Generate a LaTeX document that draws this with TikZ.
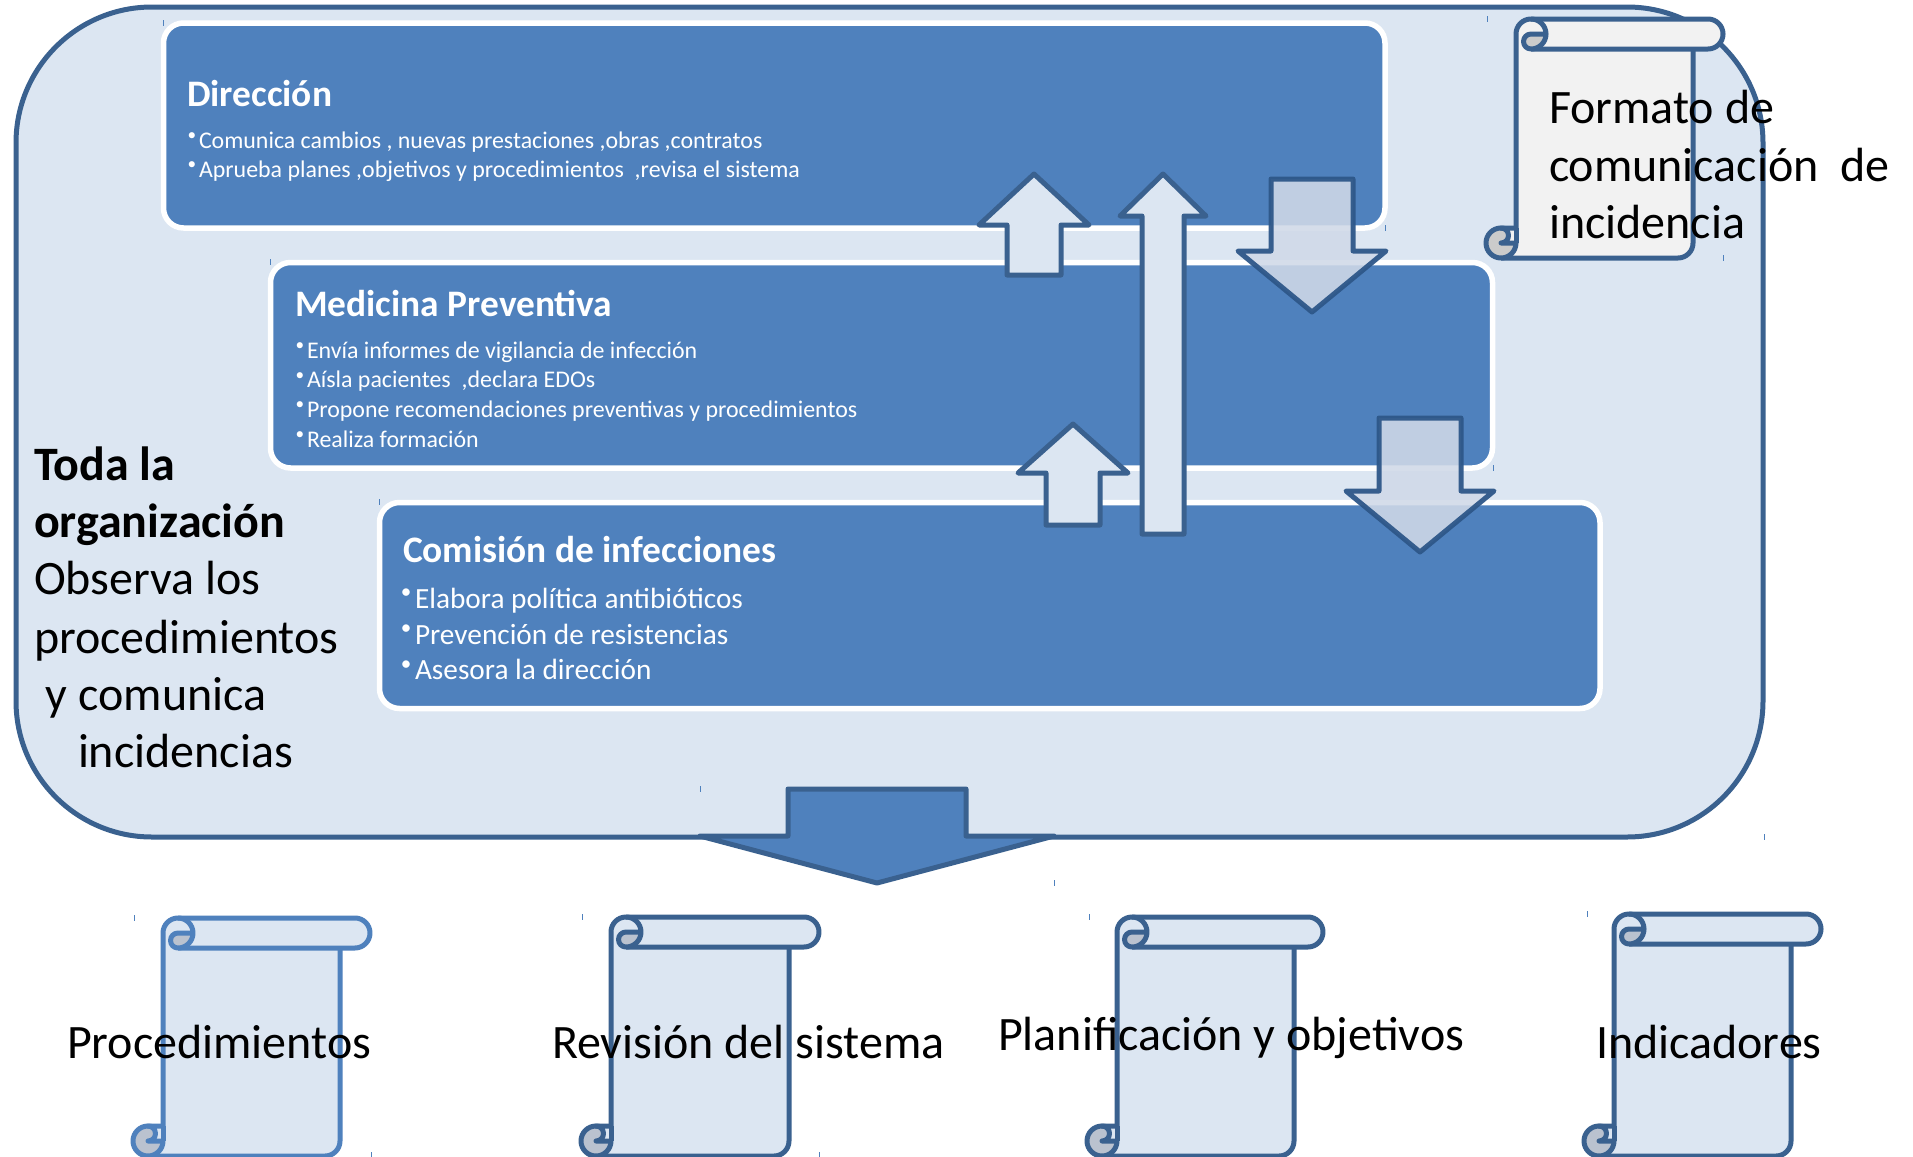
\documentclass[tikz,border=0pt]{standalone}
\usepackage{fontspec}
\setmainfont{Carlito}
\definecolor{boxblue}{HTML}{4F81BD}
\definecolor{pale}{HTML}{DCE6F2}
\definecolor{edge}{HTML}{3A618F}
\definecolor{edgelight}{HTML}{4F81BD}
\definecolor{edgedown}{HTML}{2E5789}
\definecolor{downfill}{HTML}{D0D9E8}
\definecolor{curl}{HTML}{CBCBCB}
\definecolor{curlb}{HTML}{BAC2CF}
\definecolor{paper}{HTML}{F2F2F2}
\newcommand{\fsz}[1]{\fontsize{#1}{#1}\selectfont}
\newcommand{\blt}[1]{\llap{\raisebox{.31em}{\scalebox{.72}{•}}\hspace{.12em}}#1}
\tikzset{
  x=.5pt,y=-.5pt,
  lw/.style={line width=2.5pt,line join=round},
  bandbox/.style={fill=boxblue,draw=white,line width=2.75pt,rounded corners=10pt},
  uparrow/.style={lw,draw=edge,fill=pale},
  downarrow/.style={lw,draw=edgedown,fill=downfill,fill opacity=.88,draw opacity=.95},
  bigarrow/.style={lw,draw=edge,fill=boxblue},
  txt/.style={anchor=base west,inner sep=0pt,outer sep=0pt},
  head/.style={txt,text=white,font=\fsz{18.7}\bfseries},
  smalltxt/.style={txt,text=white,font=\fsz{11.95}},
  midtxt/.style={txt,text=white,font=\fsz{14.65}},
  bigtxt/.style={txt,text=black,font=\fsz{24}},
  boldtxt/.style={txt,text=black,font=\fsz{24}\bfseries},
  tickmark/.style={draw=boxblue,line width=.4pt},
}
% L T R RR B line fill curlfill
\newcommand{\scrollshape}[8]{%
  \def\sL{#1}\def\sT{#2}\def\sR{#3}\def\sRR{#4}\def\sB{#5}%
  \begin{scope}[lw,draw=#6]
  \path[fill=#7] (\sL,\sB-15) -- (\sL,\sT+15) arc[start angle=180,end angle=90,radius=7.5pt]
     -- (\sRR-15,\sT) arc[start angle=90,end angle=-90,radius=7.5pt]
     -- (\sR,\sT+30) -- (\sR,\sB-15) arc[start angle=0,end angle=-90,radius=7.5pt] -- (\sL-15,\sB) -- cycle;
  \draw (\sL,\sB-30) -- (\sL,\sT+15) arc[start angle=180,end angle=90,radius=7.5pt]
     -- (\sRR-15,\sT) arc[start angle=90,end angle=-90,radius=7.5pt] -- (\sL+15,\sT+30);
  \draw (\sR,\sT+30) -- (\sR,\sB-15) arc[start angle=0,end angle=-90,radius=7.5pt] -- (\sL-15,\sB);
  % top curl
  \path[fill=#8] (\sL+15,\sT+15) -- (\sL+30,\sT+15) arc[start angle=0,end angle=-90,radius=7.5pt]
     arc[start angle=-90,end angle=-270,radius=3.75pt] -- cycle;
  \draw (\sL+15,\sT) arc[start angle=90,end angle=-90,radius=7.5pt]
     arc[start angle=270,end angle=90,radius=3.75pt] -- (\sL+30,\sT+15);
  % bottom curl
  \draw[fill=#8] (\sL-15,\sB-15) circle[radius=7.5pt];
  \path[fill=#7] (\sL-15,\sB-30) -- (\sL,\sB-30) -- (\sL,\sB-15) -- (\sL-15,\sB-15)
     arc[start angle=-90,end angle=90,radius=3.75pt] -- cycle;
  \draw (\sL,\sB-30) -- (\sL-15,\sB-30) arc[start angle=90,end angle=-90,radius=3.75pt] -- (\sL,\sB-15);
  \draw (\sL,\sB-30) -- (\sL,\sB-15);
  \end{scope}}
% cx apexY wingY halfwing halfshaft bottom
\newcommand{\uparr}[6]{\path[uparrow] (#1,#2) -- (#1+#4,#3) -- (#1+#5,#3) -- (#1+#5,#6) -- (#1-#5,#6) -- (#1-#5,#3) -- (#1-#4,#3) -- cycle;}
% style cx top wing halfshaft halfwing tip
\newcommand{\downarr}[7]{\path[#1] (#2-#5,#3) -- (#2+#5,#3) -- (#2+#5,#4) -- (#2+#6,#4) -- (#2,#7) -- (#2-#6,#4) -- (#2-#5,#4) -- cycle;}
\begin{document}
\begin{tikzpicture}
\useasboundingbox[fill=white] (0,0) rectangle (1913,1157);
% outer
\draw[lw,draw=edge,fill=pale,rounded corners=68pt] (16,7) rectangle (1763,837);
% bands
\draw[bandbox] (163.5,23) rectangle (1385,228);
\draw[bandbox] (270.5,262.5) rectangle (1492.5,468);
\draw[bandbox] (379.5,502.5) rectangle (1600,708.5);
% block arrows
\uparr{1034}{174}{225}{55}{27}{275}
\uparr{1073}{424}{473}{55}{27}{525}
\uparr{1163}{174}{216}{43}{21}{534}
\downarr{downarrow}{1312}{179}{251}{41}{74}{312}
\downarr{downarrow}{1420}{418}{491}{41}{74}{552}
\downarr{bigarrow}{877}{789}{836}{89}{177}{883}
% scrolls
\scrollshape{1516}{19}{1693}{1723}{258}{edge}{paper}{curl}
\scrollshape{163}{918}{340}{370}{1156}{edgelight}{pale}{curlb}
\scrollshape{611}{917}{789}{819}{1156}{edge}{pale}{curlb}
\scrollshape{1117}{917}{1294}{1323}{1156}{edge}{pale}{curlb}
\scrollshape{1614}{914}{1791}{1821}{1156}{edge}{pale}{curlb}
% texts
\node[head] (t1) at (187,106) {Dirección};
\node[smalltxt] (t2) at (199,148) {\blt{Comunica cambios , nuevas prestaciones ,obras ,contratos}};
\node[smalltxt] (t3) at (199,177) {\blt{Aprueba planes ,objetivos y procedimientos\ \ ,revisa el sistema}};
\node[head] (t4) at (295,316.5) {Medicina Preventiva};
\node[smalltxt] (t5) at (307,358) {\blt{Envía informes de vigilancia de infección}};
\node[smalltxt] (t6) at (307,387.5) {\blt{Aísla pacientes\ \ ,declara EDOs}};
\node[smalltxt] (t7) at (307,417) {\blt{Propone recomendaciones preventivas y procedimientos}};
\node[smalltxt] (t8) at (307,447) {\blt{Realiza formación}};
\node[head] (t9) at (403,562) {Comisión de infecciones};
\node[midtxt] (t10) at (415,608) {\blt{Elabora política antibióticos}};
\node[midtxt] (t11) at (415,644) {\blt{Prevención de resistencias}};
\node[midtxt] (t12) at (415,679.5) {\blt{Asesora la dirección}};
\node[boldtxt] (t13) at (34,480) {Toda la};
\node[boldtxt] (t14) at (34,537) {organización};
\node[bigtxt] (t15) at (34,594.5) {Observa los};
\node[bigtxt] (t16) at (34,653) {procedimientos};
\node[bigtxt] (t17) at (46,710) {y comunica};
\node[bigtxt] (t18) at (78,767.5) {incidencias};
\node[bigtxt] (t19) at (1549,123) {Formato de};
\node[bigtxt] (t20) at (1549,181) {comunicación\ \ de};
\node[bigtxt] (t21) at (1549,238) {incidencia};
\node[bigtxt] (t22) at (67,1058) {Procedimientos};
\node[bigtxt] (t23) at (552,1058) {Revisión del sistema};
\node[bigtxt] (t24) at (998,1050) {Planificación y objetivos};
\node[bigtxt] (t25) at (1596,1058) {Indicadores};
% handle ticks
\foreach \tx/\ty in {979/173,1120/173,1239/178,1090/276,1019/422,1385/312,1347/417,1129/525,1206/535,1493/552,1385/228,1493/468,163/23,270/262,379/502,1487/19,1723/258,134/918,371/1155,700/789,1054/883,582/917,819/1155,1089/917,1587/914,1764/837}
  \draw[tickmark] (\tx,\ty-3) -- (\tx,\ty+3);
\end{tikzpicture}
\end{document}
